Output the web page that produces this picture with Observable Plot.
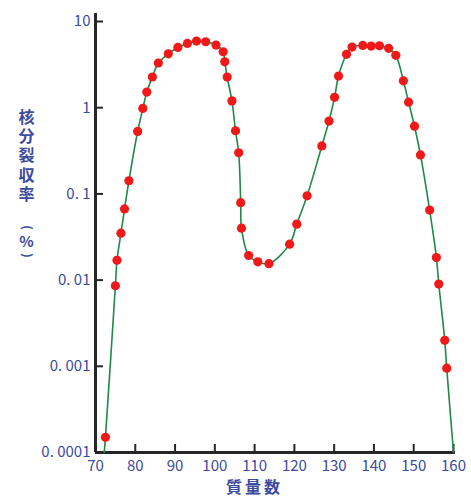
<!DOCTYPE html>
<html><head><meta charset="utf-8">
<script src="https://cdn.jsdelivr.net/npm/d3@7"></script>
<script src="https://cdn.jsdelivr.net/npm/@observablehq/plot@0.6"></script>
<style>body{margin:0;background:#fff}</style>
</head><body><div id="chart"></div>
<script>
const massNumbers = [72.5,75.0,75.4,76.4,77.3,78.4,80.6,81.9,82.9,84.3,85.8,88.3,90.7,93.1,95.4,97.7,100.3,102.1,102.5,103.1,104.3,105.2,106.0,106.5,106.7,108.5,110.8,113.6,118.8,120.6,123.2,126.9,128.7,130.1,131.1,133.1,134.5,137.2,139.3,141.4,143.7,145.5,147.4,148.7,150.2,151.7,154.0,155.7,156.3,157.8,158.3];
const yields = [0.00015,0.0086,0.017,0.035,0.067,0.142,0.53,0.98,1.52,2.27,3.3,4.22,5.0,5.57,5.93,5.82,5.33,4.46,3.41,2.27,1.2,0.54,0.30,0.079,0.040,0.0193,0.0163,0.0155,0.0261,0.0446,0.095,0.36,0.70,1.32,2.33,4.16,5.05,5.28,5.19,5.23,4.88,4.05,2.05,1.16,0.61,0.283,0.065,0.0183,0.009,0.002,0.00095];
const curveStart = [72.2, 0.0001];
const curveEnd = [160, 0.0001];
const xTicks = [70,80,90,100,110,120,130,140,150,160];
const yTicks = [10,1,0.1,0.01,0.001,0.0001];
const yTickLabels = ["10","1","0. 1","0. 01","0. 001","0. 0001"];
const xLabel = "質量数";
const yLabelMain = ["核","分","裂","収","率"];
const yLabelUnit = ["(", "%", ")"];

const points = massNumbers.map((m,i)=>({mass:m, yield:yields[i]}));
const curve = [{mass:curveStart[0], yield:curveStart[1]}, ...points, {mass:curveEnd[0], yield:curveEnd[1]}];
const blue = "#3b4a9e";
const axisColor = "#262626";

const labelStyle = {frameAnchor: "top-left", dx: -69, textAnchor: "middle", lineAnchor: "middle", fill: blue, fontSize: 16, fontWeight: "bold"};
const charMarks = yLabelMain.map((c, i) =>
  Plot.text([c], {...labelStyle, text: d => d, dy: 96 + i * 19.3}));
const unitMarks = [
  Plot.text([yLabelUnit[0]], {...labelStyle, text: d => d, dy: 206, fontSize: 12, rotate: 90}),
  Plot.text([yLabelUnit[1]], {...labelStyle, text: d => d, dy: 220.5, fontSize: 15}),
  Plot.text([yLabelUnit[2]], {...labelStyle, text: d => d, dy: 234, fontSize: 12, rotate: 90})
];

const chart = Plot.plot({
  width: 471, height: 502,
  marginLeft: 95, marginRight: 18, marginTop: 21, marginBottom: 50,
  x: {domain: [70,160]},
  y: {type: "log", domain: [0.0001, 10]},
  style: {fontFamily: "'Noto Sans CJK JP', sans-serif", background: "#fff"},
  marks: [
    Plot.axisX(xTicks, {tickSize: 0, tickPadding: 8, tickFormat: d => String(d), fill: blue, fontSize: 15, label: null}),
    Plot.axisY(yTicks, {tickSize: 0, tickPadding: 5, tickFormat: d => yTickLabels[yTicks.indexOf(d)], fill: blue, fontSize: 15, label: null}),
    Plot.tickX(xTicks, {x: d => d, stroke: axisColor, strokeWidth: 2, insetTop: 423}),
    Plot.tickY(yTicks, {y: d => d, stroke: axisColor, strokeWidth: 2, insetRight: 350}),
    Plot.ruleX([70], {stroke: axisColor, strokeWidth: 3, insetTop: -8}),
    Plot.ruleY([0.0001], {stroke: axisColor, strokeWidth: 3, insetRight: -2}),
    Plot.line(curve, {x: "mass", y: "yield", curve: "catmull-rom", stroke: "#1f8a45", strokeWidth: 1.6}),
    Plot.dot(points, {x: "mass", y: "yield", r: 4.6, fill: "#f01818", stroke: "none"}),
    Plot.text([xLabel], {text: d => d, frameAnchor: "bottom", dx: -20, dy: 40, fill: blue, fontSize: 16, fontWeight: "bold"}),
    ...charMarks,
    ...unitMarks
  ]
});
d3.select(chart).selectAll("text").filter(function(){ return this.textContent === xLabel; }).style("letter-spacing", "3px");
document.getElementById("chart").appendChild(chart);
</script>
</body></html>
